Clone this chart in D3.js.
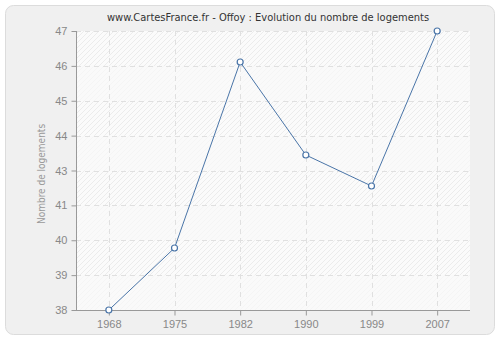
<!DOCTYPE html>
<html>
<head>
<meta charset="utf-8">
<script src="https://cdn.jsdelivr.net/npm/d3@7"></script>
<style>
  body { margin: 0; background: #fff; }
  svg { display: block; font-family: "DejaVu Sans Condensed", "DejaVu Sans", Verdana, sans-serif; }
</style>
</head>
<body>
<div id="draw_zone"></div>
<script>
// data
var years = ["1968", "1975", "1982", "1990", "1999", "2007"];
var logements = [38, 40, 46, 43, 42, 47];
// ticks sit at 8 even steps over 38..47, labels are rounded
var yTicks = [38, 39.125, 40.25, 41.375, 42.5, 43.625, 44.75, 45.875, 47];
var yTickLabels = ["38", "39", "40", "41", "43", "44", "45", "46", "47"];

var W = 500, H = 340;
var m = { left: 76, right: 30, top: 31, bottom: 30 };

var holder = d3.select("#draw_zone").append("svg").attr("width", W).attr("height", H);

// background + frame
holder.append("rect").attr("width", W).attr("height", H).style("fill", "#ffffff");
holder.append("rect").attr("x", 5.5).attr("y", 5.5).attr("width", 489).attr("height", 329)
  .attr("rx", 8).style("fill", "#f0f0f0").style("stroke", "#dcdcdc");

// hatch pattern for plot area
var defs = holder.append("defs");
var pat = defs.append("pattern").attr("id", "hatch").attr("patternUnits", "userSpaceOnUse")
  .attr("width", 5).attr("height", 5);
pat.append("rect").attr("width", 5).attr("height", 5).style("fill", "#fbfbfb");
pat.append("path").attr("d", "M-1,6 L6,-1 M-3,3 L3,-3 M2,8 L8,2").style("stroke", "#e8e8e8").style("stroke-width", 0.8);

var x = d3.scalePoint().domain(years).range([m.left, W - m.right]).padding(0.5);
var y = d3.scaleLinear().domain([38, 47]).range([H - m.bottom, m.top]);

holder.append("rect").attr("x", m.left).attr("y", m.top)
  .attr("width", W - m.right - m.left).attr("height", H - m.bottom - m.top)
  .style("fill", "url(#hatch)");

// lighter alternate bands
var bands = d3.pairs(yTicks).filter(function(d, i) { return i % 2 === 0; });
holder.append("g").selectAll("rect").data(bands).join("rect")
  .attr("x", m.left).attr("width", W - m.right - m.left)
  .attr("y", function(d) { return y(d[1]); })
  .attr("height", function(d) { return y(d[0]) - y(d[1]); })
  .style("fill", "#fafafa").style("opacity", 0.7);

// grid
holder.append("g").selectAll("line").data(yTicks).join("line")
  .attr("x1", m.left).attr("x2", W - m.right)
  .attr("y1", function(d) { return Math.round(y(d)) + 0.5; })
  .attr("y2", function(d) { return Math.round(y(d)) + 0.5; })
  .style("stroke", "#e0e0e0").style("stroke-dasharray", "5,4");
holder.append("g").selectAll("line").data(years).join("line")
  .attr("y1", m.top).attr("y2", H - m.bottom)
  .attr("x1", function(d) { return Math.round(x(d)) + 0.5; })
  .attr("x2", function(d) { return Math.round(x(d)) + 0.5; })
  .style("stroke", "#e0e0e0").style("stroke-dasharray", "5,4");

// axes
var yAxis = d3.axisLeft(y).tickValues(yTicks).tickSize(5).tickPadding(4)
  .tickFormat(function(d, i) { return yTickLabels[i]; });
var xAxis = d3.axisBottom(x).tickSize(5).tickPadding(5);

var gy = holder.append("g").attr("transform", "translate(" + (m.left + 0.5) + ",0)").call(yAxis);
var gx = holder.append("g").attr("transform", "translate(0," + (H - m.bottom + 0.5) + ")").call(xAxis);
gx.select(".domain").attr("d", "M" + m.left + ",0H" + (W - m.right));
gy.select(".domain").attr("d", "M0," + m.top + "V" + (H - m.bottom));
[gx, gy].forEach(function(g) {
  g.selectAll(".domain, .tick line").style("stroke", "#999");
  g.selectAll("text").style("fill", "#888").style("font-size", "11px");
});

// y title
holder.append("text").attr("transform", "translate(45,174) rotate(-90)")
  .attr("text-anchor", "middle").style("font-size", "10px").style("fill", "#999")
  .text("Nombre de logements");

// title
holder.append("text").attr("x", 268).attr("y", 21).attr("text-anchor", "middle")
  .style("font-size", "11px").style("fill", "#333")
  .text("www.CartesFrance.fr - Offoy : Evolution du nombre de logements");

// line + points
var line = d3.line().x(function(d, i) { return x(years[i]); }).y(function(d) { return y(d); });
holder.append("path").datum(logements).attr("d", line)
  .style("fill", "none").style("stroke", "#4a75a8").style("stroke-width", 1);
holder.append("g").selectAll("circle").data(logements).join("circle")
  .attr("cx", function(d, i) { return x(years[i]); })
  .attr("cy", function(d) { return y(d); })
  .attr("r", 3).style("fill", "#fff").style("stroke", "#4a75a8").style("stroke-width", 1.2);
</script>
</body>
</html>
